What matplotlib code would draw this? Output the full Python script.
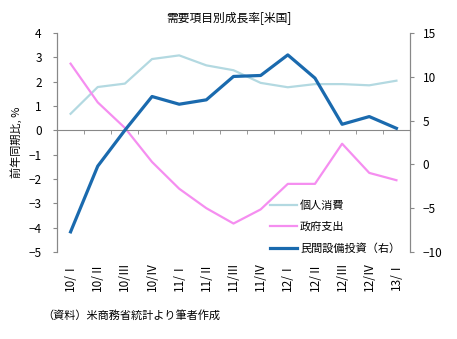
import matplotlib
matplotlib.use("Agg")
import matplotlib.pyplot as plt
import numpy as np

plt.rcParams['font.family'] = ['Noto Sans CJK JP', 'DejaVu Sans']

categories = ["10/Ⅰ", "10/Ⅱ", "10/Ⅲ", "10/Ⅳ", "11/Ⅰ", "11/Ⅱ", "11/Ⅲ", "11/Ⅳ",
              "12/Ⅰ", "12/Ⅱ", "12/Ⅲ", "12/Ⅳ", "13/Ⅰ"]
consumption = [0.68, 1.78, 1.92, 2.93, 3.08, 2.67, 2.47, 1.95, 1.77, 1.90, 1.90, 1.85, 2.04]
government = [2.74, 1.15, 0.10, -1.30, -2.40, -3.20, -3.83, -3.25, -2.20, -2.20, -0.55, -1.75, -2.05]
investment = [-7.7, -0.2, 3.9, 7.75, 6.87, 7.37, 10.04, 10.15, 12.5, 9.85, 4.58, 5.46, 4.12]

c_cons = "#b3d9e1"
c_gov = "#f58ef0"
c_inv = "#1a6aae"

fig = plt.figure(figsize=(4.57, 3.39), dpi=100)
ax = fig.add_axes([57/457, 1-252/339, (410-57)/457, (252-33)/339])
ax2 = ax.twinx()

x = np.arange(len(categories))
l1, = ax.plot(x, consumption, color=c_cons, lw=1.6, label="個人消費")
l2, = ax.plot(x, government, color=c_gov, lw=1.6, label="政府支出")
l3, = ax2.plot(x, investment, color=c_inv, lw=2.3, label="民間設備投資（右）")

ax.set_xlim(-0.5, len(categories)-0.5)
ax.set_ylim(-5, 4)
ax2.set_ylim(-10, 15)
ax.set_yticks(range(-5, 5))
ax2.set_yticks(range(-10, 16, 5))

for a in (ax, ax2):
    a.spines['top'].set_visible(False)
    a.spines['left'].set_color('#888888')
    a.spines['right'].set_color('#888888')
    a.spines['bottom'].set_visible(False)
    a.spines['left'].set_linewidth(0.8)
    a.spines['right'].set_linewidth(0.8)

ax.spines['bottom'].set_visible(True)
ax.spines['bottom'].set_position(('data', 0))
ax.spines['bottom'].set_color('#888888')
ax.spines['bottom'].set_linewidth(0.8)

ax.set_xticks(x)
ax.set_xticklabels(categories, rotation=90, fontsize=8.5)
ax.set_xticks(np.arange(-0.5, len(categories)), minor=True)
ax.tick_params(axis='x', which='major', length=0, pad=94)
ax.tick_params(axis='x', which='minor', length=3, direction='out', color='#888888')
ax.tick_params(axis='y', length=3, direction='out', color='#888888', labelsize=8.5, pad=8)
ax2.tick_params(axis='y', length=3, direction='out', color='#888888', labelsize=8.5, pad=6)

ax.set_ylabel("前年同期比, %", fontsize=8, labelpad=5)

ax2.legend(handles=[l1, l2, l3], frameon=False, fontsize=8, loc='center left',
           bbox_to_anchor=(270/457, 1-227/339), bbox_transform=fig.transFigure,
           borderaxespad=0, borderpad=0, handlelength=2.4, handletextpad=0.3,
           labelspacing=1.0)

fig.text(0.5, 1-18/339, "需要項目別成長率[米国]", ha='center', va='center', fontsize=8.5)
fig.text(42/457, 1-315/339, "（資料）米商務省統計より筆者作成", ha='left', va='center', fontsize=8)

fig.savefig("out.png", dpi=100)
